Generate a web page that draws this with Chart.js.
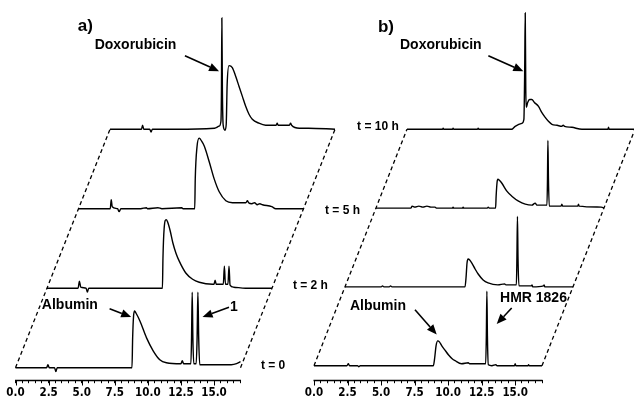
<!DOCTYPE html>
<html><head><meta charset="utf-8">
<script src="https://cdn.jsdelivr.net/npm/chart.js@4.4.1/dist/chart.umd.min.js"></script>
<style>
html,body{margin:0;padding:0;background:#fff;overflow:hidden;}
#wrap{position:relative;width:634px;height:403px;background:#fff;}
#wrap canvas{position:absolute;left:0;top:0;}
</style></head><body>
<div id="wrap"><canvas id="chartA" width="634" height="403"></canvas><canvas id="chartB" width="634" height="403"></canvas></div>
<script>
// ---- axis ----
const timeMax = 17;                     // retention time, min
const majorTicks = [0, 2.5, 5, 7.5, 10, 12.5, 15];

// ---- panel a) chromatograms: [time (min), intensity] ----
const a_t0 = [[0,0],[2.35,0],[2.45,3],[2.55,0],[2.95,0],[3.05,-4],[3.15,0],[5,0],[8.8,0],[8.85,30],[8.92,52],[9.0,57],[9.1,55],[9.4,47],[9.9,30],[10.4,17],[10.9,8],[11.4,5],[12.5,4],[12.6,7],[12.7,4],[13.25,4],[13.3,30],[13.35,76],[13.4,30],[13.47,4],[13.65,4],[13.72,30],[13.78,76],[13.84,30],[13.92,3],[15,3],[16.3,3],[16.7,4],[17,6]];
const a_t2h = [[0,0],[2.35,0],[2.45,7],[2.55,1],[2.95,0],[3.05,-4],[3.15,0],[5,0],[8.72,0],[8.76,30],[8.85,60],[9.0,69],[9.1,67],[9.3,58],[9.5,46],[9.75,35],[10.0,27],[10.5,15],[11.0,9],[11.5,6],[12.5,4],[12.62,4],[12.7,8],[12.78,4],[13.32,4],[13.4,22],[13.48,4],[13.67,4],[13.75,22],[13.83,3],[14.1,1],[15,0],[17,0]];
const a_t5h = [[0,0],[2.4,0],[2.47,9],[2.55,2],[2.95,0],[3.07,-3],[3.2,0],[4.7,0],[5.13,1],[5.2,0],[6.0,1],[6.3,0],[7.8,1],[7.9,0],[8.78,0],[8.82,30],[8.95,62],[9.12,71],[9.3,68],[9.5,63],[9.88,47],[10.25,30],[10.63,17],[11.13,8],[11.63,6],[12.64,6],[12.76,8],[12.85,6],[13.1,5],[13.3,6],[13.5,4],[13.7,5],[13.9,4],[14.6,2],[14.9,0],[17,0]];
const a_t10h = [[0,0],[2.38,0],[2.46,4],[2.55,0],[3.0,0],[3.1,-3],[3.2,0],[5,0],[7.9,1],[8.24,3],[8.38,8],[8.42,40],[8.45,112],[8.49,40],[8.55,4],[8.69,-1],[8.78,5],[8.85,45],[8.99,64],[9.24,62],[9.5,53],[9.75,43],[10.0,33],[10.25,23],[10.5,15],[10.75,10],[11.25,6],[11.76,4],[12.55,4],[12.63,6],[12.7,4],[13.55,4],[13.64,6],[13.72,4],[14.3,1],[15,1],[17,0]];

// ---- panel b) chromatograms: [time (min), intensity] ----
const b_t0 = [[0,0],[2.45,0],[2.56,2],[2.65,0],[3.25,0],[3.33,-1],[3.45,0],[8.9,0],[9.0,8],[9.1,20],[9.23,25],[9.35,24],[9.53,20],[9.8,15],[10.02,11],[10.3,7],[10.52,5],[11.0,2],[11.5,3],[11.6,2],[12.0,2],[12.8,2],[12.85,30],[12.89,75],[12.93,30],[13.0,1],[13.26,0],[13.56,1],[13.65,0],[14.95,0],[15.0,2],[15.05,0],[15.95,0],[16.0,1],[16.05,0],[17,0]];
const b_t2h = [[0,0],[2.7,0],[2.8,1],[2.9,0],[3.3,0],[3.4,1],[3.5,0],[8.95,0],[9.03,10],[9.1,24],[9.18,28],[9.3,27],[9.5,23],[9.7,18],[9.93,13],[10.3,7],[10.67,4],[11.4,2],[11.9,3],[12.0,2],[12.78,2],[12.82,30],[12.86,71],[12.9,30],[12.97,1],[13.9,1],[13.95,2],[14.0,0],[14.8,1],[14.85,2],[14.9,0],[17,0]];
const b_t5h = [[0,0],[2.6,0],[2.7,2],[2.9,1],[3.2,2],[3.5,1],[3.8,2],[4.1,1],[4.4,1],[4.5,0],[5.7,0],[5.75,1],[5.8,0],[6.45,0],[6.5,1],[6.55,0],[8.3,0],[8.37,1],[8.45,0],[8.92,0],[8.96,12],[9.03,26],[9.09,29],[9.2,28],[9.39,25],[9.76,17],[10.13,12],[10.63,7],[11.13,4],[11.63,3],[11.87,5],[12.0,3],[12.75,3],[12.79,30],[12.82,68],[12.86,30],[12.92,2],[13.8,2],[13.86,4],[13.92,2],[15.05,2],[15.1,4],[15.15,2],[16.8,1],[17,0]];
const b_t10h = [[0,0],[2.65,0],[2.7,1],[2.75,0],[3.4,0],[3.44,1],[3.5,0],[5.25,0],[5.31,1],[5.37,0],[7.8,0],[8.07,3],[8.57,6],[8.72,10],[8.78,60],[8.82,117],[8.86,40],[8.9,22],[9.0,27],[9.15,30],[9.31,30],[9.5,27],[9.81,23],[10.05,17],[10.31,12],[10.55,8],[10.81,5],[11.2,4],[11.55,3],[11.65,4],[11.75,3],[12.3,2],[13.05,0],[14.98,0],[15.03,2],[15.08,0],[17,0]];

// ---- layout (not data) ----
// axisLeft / axisRight: canvas pixel of time 0 and of timeMax; plot area runs on to the canvas right edge
const panels = [
  { id:'chartA', traces:[a_t0,a_t2h,a_t5h,a_t10h], axisLeft:15.5, axisRight:241.5, yMin:-12.6, yMax:370, shift:2.38, step:80,
    texts:[
      {text:'a)', x:4.70, y:344, size:17},
      {text:'Doxorubicin', x:5.98, y:325, size:14},
      {text:'Albumin', x:1.99, y:63, size:14},
      {text:'1', x:16.21, y:61, size:14},
      {text:'t = 0', x:18.54, y:2, size:12}
    ],
    arrows:[
      {from:[12.80,314], to:[15.38,298.3]},
      {from:[7.11,59.3], to:[8.74,51]},
      {from:[16.13,60.7], to:[14.13,51]}
    ]},
  { id:'chartB', traces:[b_t0,b_t2h,b_t5h,b_t10h], axisLeft:314, axisRight:542, yMin:-14.6, yMax:368, shift:2.31, step:79.3,
    texts:[
      {text:'b)', x:4.77, y:341, size:17},
      {text:'Doxorubicin', x:6.41, y:323, size:14},
      {text:'t = 10 h', x:3.21, y:241, size:12},
      {text:'t = 5 h', x:0.82, y:156, size:12},
      {text:'t = 2 h', x:-1.57, y:81, size:12},
      {text:'Albumin', x:2.68, y:60, size:14},
      {text:'HMR 1826', x:13.87, y:68, size:14}
    ],
    arrows:[
      {from:[13.0,312], to:[15.61,296.3]},
      {from:[7.53,56.3], to:[9.15,31.3]},
      {from:[14.74,58], to:[13.62,42]}
    ]}
];
const canvasW = 634;

// axis line (0..timeMax) and longer major ticks, drawn through the x scale
const axisPlugin = {
  id:'axisLine',
  afterDraw(chart){
    const xs = chart.scales.x, ctx = chart.ctx;
    const y0 = Math.round(xs.top)+0.5;
    ctx.save(); ctx.strokeStyle='#000';
    ctx.lineWidth=1.3;
    ctx.beginPath(); ctx.moveTo(xs.getPixelForValue(0)-0.5, y0); ctx.lineTo(xs.getPixelForValue(timeMax)+0.5, y0); ctx.stroke();
    ctx.lineWidth=1;
    majorTicks.forEach(v=>{
      const px = Math.round(xs.getPixelForValue(v))+0.5;
      ctx.beginPath(); ctx.moveTo(px, y0); ctx.lineTo(px, y0+5); ctx.stroke();
    });
    ctx.restore();
  }
};

const annotationPlugin = {
  id:'annot',
  afterDraw(chart, args, opts){
    const p = opts.panel; if(!p) return;
    const xs = chart.scales.x, ys = chart.scales.y, ctx = chart.ctx;
    ctx.save();
    ctx.fillStyle='#000'; ctx.strokeStyle='#000';
    ctx.textAlign='left'; ctx.textBaseline='middle';
    p.texts.forEach(t=>{
      ctx.font = 'bold '+t.size+'px "Liberation Sans", Arial, sans-serif';
      ctx.fillText(t.text, xs.getPixelForValue(t.x), ys.getPixelForValue(t.y));
    });
    p.arrows.forEach(a=>{
      const x1=xs.getPixelForValue(a.from[0]), y1=ys.getPixelForValue(a.from[1]);
      const x2=xs.getPixelForValue(a.to[0]), y2=ys.getPixelForValue(a.to[1]);
      const ang=Math.atan2(y2-y1,x2-x1), L=10, W=4.2;
      const bx=x2-L*Math.cos(ang), by=y2-L*Math.sin(ang);
      ctx.lineWidth=1.6;
      ctx.beginPath(); ctx.moveTo(x1,y1); ctx.lineTo(bx,by); ctx.stroke();
      ctx.beginPath(); ctx.moveTo(x2,y2);
      ctx.lineTo(bx+W*Math.sin(ang), by-W*Math.cos(ang));
      ctx.lineTo(bx-W*Math.sin(ang), by+W*Math.cos(ang));
      ctx.closePath(); ctx.fill();
    });
    ctx.restore();
  }
};

panels.forEach(p=>{
  const xMax = timeMax*(canvasW - p.axisLeft)/(p.axisRight - p.axisLeft);
  const datasets = p.traces.map((tr,k)=>({
    data: tr.map(([t,v])=>({x: t + k*p.shift, y: v + k*p.step})),
    borderColor:'#000', borderWidth:1.4, pointRadius:0, fill:false,
    cubicInterpolationMode:'monotone', clip:false
  }));
  const n = p.traces.length-1;
  [0, timeMax].forEach(t0=>{
    datasets.push({
      data:[{x:t0, y:0},{x:t0+n*p.shift, y:n*p.step}],
      borderColor:'#000', borderWidth:1.3, borderDash:[4,3], pointRadius:0, fill:false, tension:0, clip:false
    });
  });
  new Chart(document.getElementById(p.id), {
    type:'line',
    data:{datasets},
    plugins:[axisPlugin, annotationPlugin],
    options:{
      responsive:false, animation:false, devicePixelRatio:1,
      layout:{padding:{left:p.axisLeft, right:0, top:0, bottom:0}},
      plugins:{legend:{display:false}, tooltip:{enabled:false}, annot:{panel:p}},
      scales:{
        x:{type:'linear', min:0, max:xMax,
           border:{display:false},
           grid:{drawOnChartArea:false, drawTicks:true, tickLength:3, tickWidth:1,
                 tickColor:(c)=> (c.tick && c.tick.value <= timeMax + 1e-9) ? '#000' : 'rgba(0,0,0,0)'},
           ticks:{stepSize:0.5, autoSkip:false, maxRotation:0, padding:3, color:'#000', includeBounds:false,
             font:{family:'"Liberation Sans Narrow", "Arial Narrow", "DejaVu Sans Condensed", sans-serif', size:11.5, weight:'bold'},
             callback:(v)=> majorTicks.includes(v) ? v.toFixed(1) : ''}
        },
        y:{display:false, min:p.yMin, max:p.yMax}
      }
    }
  });
});
</script>
</body></html>
